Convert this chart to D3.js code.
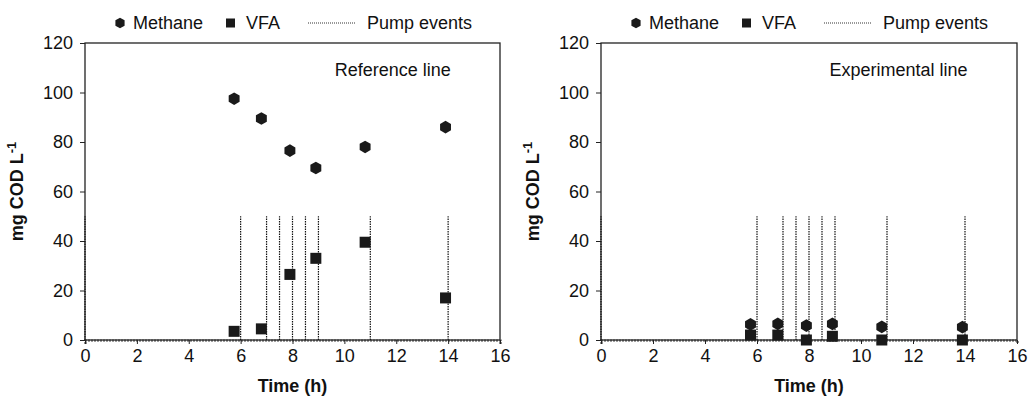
<!DOCTYPE html>
<html>
<head>
<meta charset="utf-8">
<script src="https://cdn.jsdelivr.net/npm/d3@7"></script>
<style>
  body { margin: 0; background: #fff; }
  text { font-family: "Liberation Sans", Arial, sans-serif; fill: #111; }
</style>
</head>
<body>
<div id="chart"></div>
<script>
// sampling times (h)
const time = [5.75, 6.8, 7.9, 8.9, 10.8, 13.9];
// reference line
const refMethane = [97.5, 89.5, 76.5, 69.5, 78, 86];
const refVFA = [3.5, 4.5, 26.5, 33, 39.5, 17];
// experimental line
const expMethane = [6.3, 6.5, 5.8, 6.5, 5.3, 5.2];
const expVFA = [2, 2, 0, 1.5, 0, 0];
// pump events
const pumpTimes = [0, 6, 7, 7.5, 8, 8.5, 9, 11, 14];
const pumpTop = 50;
const xTicks = [0, 2, 4, 6, 8, 10, 12, 14, 16];
const yTicks = [0, 20, 40, 60, 80, 100, 120];

let width = 1028,
  height = 400;

let svg = d3.select("#chart")
  .append("svg")
  .attr("width", width)
  .attr("height", height);

// pointy-top hexagon
function hexPath(r) {
  let pts = d3.range(6).map(i => {
    let a = Math.PI / 2 + i * Math.PI / 3;
    return [r * Math.cos(a), r * Math.sin(a)];
  });
  return "M" + pts.join("L") + "Z";
}

function panel(left, right, label, methane, vfa) {
  let top = 43, bottom = 340;

  let x = d3.scaleLinear().domain([0, 16]).range([left, right]);
  let y = d3.scaleLinear().domain([0, 120]).range([bottom, top]);

  let g = svg.append("g");

  // frame
  g.append("rect")
    .attr("x", left).attr("y", top)
    .attr("width", right - left).attr("height", bottom - top)
    .attr("fill", "none").attr("stroke", "#222").attr("stroke-width", 1.3);

  g.append("g")
    .attr("transform", `translate(0,${bottom})`)
    .call(d3.axisBottom(x).tickValues(xTicks).tickSize(4).tickPadding(5))
    .call(a => a.select(".domain").attr("stroke", "#444").attr("stroke-width", 2.2).attr("stroke-dasharray", "2,1"))
    .call(a => a.selectAll("text").style("font-size", "18px"));

  g.append("g")
    .attr("transform", `translate(${left},0)`)
    .call(d3.axisLeft(y).tickValues(yTicks).tickSize(5).tickPadding(7))
    .call(a => a.select(".domain").remove())
    .call(a => a.selectAll("text").style("font-size", "18px"));

  g.selectAll(".tick line").attr("stroke", "#222");

  // pump event lines
  g.selectAll(".pump")
    .data(pumpTimes)
    .join("line")
    .attr("class", "pump")
    .attr("x1", d => x(d)).attr("x2", d => x(d))
    .attr("y1", y(0)).attr("y2", y(pumpTop))
    .attr("stroke", "#111").attr("stroke-width", 1.2)
    .attr("stroke-dasharray", "1.5,1");

  // VFA squares
  g.selectAll(".vfa")
    .data(time.map((t, i) => ({ t: t, v: vfa[i] })))
    .join("rect")
    .attr("class", "vfa")
    .attr("x", d => x(d.t) - 5.5).attr("y", d => y(d.v) - 5.5)
    .attr("width", 11).attr("height", 11)
    .attr("fill", "#1a1a1a");

  // methane hexagons
  g.selectAll(".ch4")
    .data(time.map((t, i) => ({ t: t, v: methane[i] })))
    .join("path")
    .attr("class", "ch4")
    .attr("d", hexPath(6.3))
    .attr("transform", d => `translate(${x(d.t)},${y(d.v)})`)
    .attr("fill", "#1a1a1a");

  // panel annotation
  g.append("text")
    .attr("x", x(14.1)).attr("y", 76)
    .attr("text-anchor", "end")
    .style("font-size", "18px")
    .text(label);

  // axis titles
  g.append("text")
    .attr("x", (left + right) / 2).attr("y", 392)
    .attr("text-anchor", "middle")
    .style("font-size", "18px").style("font-weight", "bold")
    .text("Time (h)");

  let yt = g.append("text")
    .attr("transform", `translate(${left - 62},${(top + bottom) / 2}) rotate(-90)`)
    .attr("text-anchor", "middle")
    .style("font-size", "18px").style("font-weight", "bold");
  yt.append("tspan").text("mg COD L");
  yt.append("tspan").attr("dy", -7).style("font-size", "13px").text("-1");

  // legend
  let lg = g.append("g").attr("transform", `translate(${left},0)`);
  lg.append("path").attr("d", hexPath(5.3)).attr("transform", "translate(35,23)").attr("fill", "#1a1a1a");
  lg.append("text").attr("x", 48).attr("y", 29).style("font-size", "18px").text("Methane");
  lg.append("rect").attr("x", 141).attr("y", 18.5).attr("width", 9).attr("height", 9).attr("fill", "#1a1a1a");
  lg.append("text").attr("x", 161).attr("y", 29).style("font-size", "18px").text("VFA");
  lg.append("line").attr("x1", 223).attr("x2", 270).attr("y1", 23).attr("y2", 23)
    .attr("stroke", "#333").attr("stroke-width", 1).attr("stroke-dasharray", "1,1");
  lg.append("text").attr("x", 282).attr("y", 29).style("font-size", "18px").text("Pump events");
}

panel(85, 500, "Reference line", refMethane, refVFA);
panel(601, 1017, "Experimental line", expMethane, expVFA);
</script>
</body>
</html>
